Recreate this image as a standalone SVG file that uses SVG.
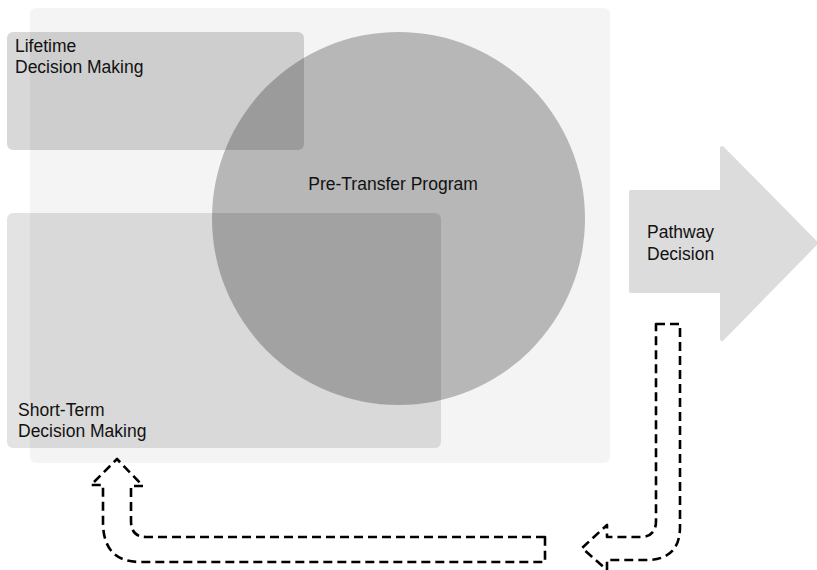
<svg xmlns="http://www.w3.org/2000/svg" width="817" height="570" viewBox="0 0 817 570">
  <style>
    .label { font-family: "Liberation Sans", Arial, sans-serif; font-size: 17.5px; fill: #111; }
    .flow { fill: none; stroke: #000; stroke-width: 2.6; stroke-dasharray: 9 5; stroke-linejoin: round; }
  </style>
  <rect width="817" height="570" fill="#ffffff"/>

  <!-- backdrop panel -->
  <g id="backdrop">
    <rect x="30" y="8" width="580" height="455" rx="6" fill="#f4f4f4"/>
  </g>

  <!-- Pre-Transfer Program circle -->
  <g id="pre-transfer">
    <circle cx="398.5" cy="218.5" r="186.5" fill="#000" fill-opacity="0.246"/>
    <text class="label" x="393" y="190" text-anchor="middle">Pre-Transfer Program</text>
  </g>

  <!-- Lifetime decision making box -->
  <g id="lifetime">
    <rect x="7" y="32" width="297" height="118" rx="6" fill="#000" fill-opacity="0.152"/>
    <text class="label" x="15" y="52">Lifetime</text>
    <text class="label" x="15" y="73">Decision Making</text>
  </g>

  <!-- Short-term decision making box -->
  <g id="short-term">
    <rect x="7" y="213" width="434" height="235" rx="6" fill="#000" fill-opacity="0.111"/>
    <text class="label" x="18" y="416">Short-Term</text>
    <text class="label" x="18" y="437">Decision Making</text>
  </g>

  <!-- Pathway decision block arrow -->
  <g id="pathway">
    <path d="M631,192 H722 V148 L816,243 L722,339 V291 H631 Z" fill="#dcdcdc" stroke="#dcdcdc" stroke-width="4" stroke-linejoin="round"/>
    <text class="label" x="647" y="238">Pathway</text>
    <text class="label" x="647" y="260">Decision</text>
  </g>

  <!-- dashed feedback arrows -->
  <g id="connectors">
    <path class="flow" d="M656,324 H680 V527 Q680,560 646,560 H607 V570 L582,548 L607,525 V537 H640 Q656,537 656,521 Z"/>
    <path class="flow" d="M545,537 H146 Q131,537 131,521 V486 H143 L117,459 L91,485 H103 V522 Q103,562 140,562 H545 Z"/>
  </g>
</svg>
